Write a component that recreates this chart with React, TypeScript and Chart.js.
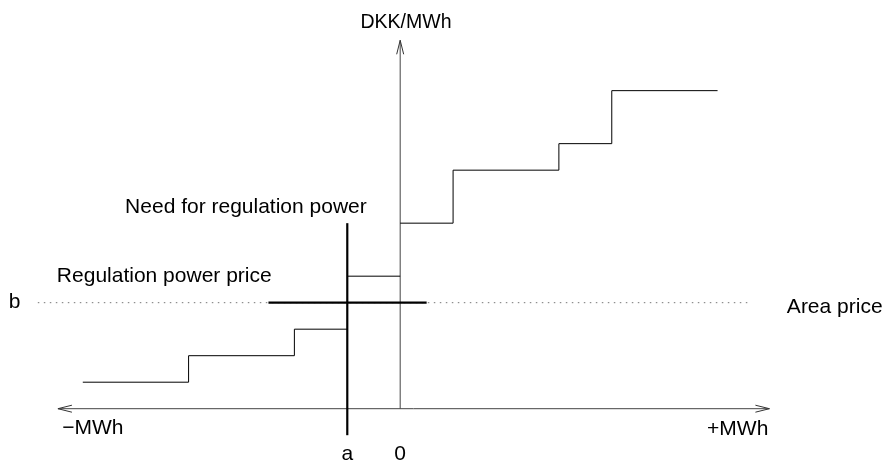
import React, { useEffect, useRef } from "react";
import { Chart, registerables } from "chart.js";

Chart.register(...registerables);

// ---- Data (schematic units: x = MWh steps, y = DKK/MWh steps) ----
// Down-regulation bids (left of 0): breakpoints and step prices
const downBreaks = [-6, -4, -2, -1];
const downPrices = [1, 2, 3];
// Bid between the regulation need (a) and 0
const midBreaks = [-1, 0];
const midPrices = [5];
// Up-regulation bids (right of 0)
const upBreaks = [0, 1, 3, 4, 6];
const upPrices = [7, 9, 10, 12];

const areaPrice = 4; // "b"
const needAt = -1; // "a"
const needRange = [-1, 7];
const regPriceRange = [-2.49, 0.5];
const areaPriceRange = [-6.85, 6.6];
const xAxisRange = [-6.47, 6.98];
const yAxisTop = 13.9;

const X_MIN = -7.565;
const X_MAX = 9.165;
const Y_MIN = -2.011;
const Y_MAX = 15.42;

const labels = [
  { text: "DKK/MWh", x: 0.11, y: 14.35, align: "center", size: 19.5 },
  { text: "Need for regulation power", x: -5.2, y: 7.37, align: "left", size: 21 },
  { text: "Regulation power price", x: -6.49, y: 4.77, align: "left", size: 21 },
  { text: "b", x: -7.4, y: 3.81, align: "left", size: 21 },
  { text: "Area price", x: 7.31, y: 3.6, align: "left", size: 21 },
  { text: "\u2212MWh", x: -6.39, y: -0.95, align: "left", size: 21 },
  { text: "+MWh", x: 6.96, y: -0.99, align: "right", size: 21 },
  { text: "a", x: -1, y: -1.95, align: "center", size: 21 },
  { text: "0", x: 0, y: -1.95, align: "center", size: 21 },
];

function stepPoints(breaks: number[], prices: number[]) {
  const pts: { x: number; y: number }[] = [];
  for (let i = 0; i < prices.length; i++) {
    pts.push({ x: breaks[i], y: prices[i] });
  }
  pts.push({ x: breaks[breaks.length - 1], y: prices[prices.length - 1] });
  return pts;
}

const FONT = '"Liberation Sans", Arial, Helvetica, sans-serif';

const overlayPlugin = {
  id: "overlay",
  afterDatasetsDraw(chart: any) {
    const { ctx, scales } = chart;
    const xs = scales.x;
    const ys = scales.y;
    const px = (v: number) => xs.getPixelForValue(v);
    const py = (v: number) => ys.getPixelForValue(v);
    ctx.save();
    // arrowheads
    ctx.strokeStyle = "#333";
    ctx.lineWidth = 1;
    const L = 14;
    const W = 3.5;
    const y0 = py(0);
    const lx = px(xAxisRange[0]);
    ctx.beginPath();
    ctx.moveTo(lx + L, y0 - W);
    ctx.lineTo(lx, y0);
    ctx.lineTo(lx + L, y0 + W);
    ctx.stroke();
    const rx = px(xAxisRange[1]);
    ctx.beginPath();
    ctx.moveTo(rx - L, y0 - W);
    ctx.lineTo(rx, y0);
    ctx.lineTo(rx - L, y0 + W);
    ctx.stroke();
    const x0 = px(0);
    const ty = py(yAxisTop);
    ctx.beginPath();
    ctx.moveTo(x0 - W, ty + L);
    ctx.lineTo(x0, ty);
    ctx.lineTo(x0 + W, ty + L);
    ctx.stroke();

    // labels
    ctx.fillStyle = "#000";
    ctx.textBaseline = "alphabetic";
    for (const l of labels) {
      ctx.font = `${l.size}px ${FONT}`;
      ctx.textAlign = l.align as CanvasTextAlign;
      ctx.fillText(l.text, px(l.x), py(l.y));
    }
    ctx.restore();
  },
};

const lineDs = (label: string, data: any[], extra: any = {}) => ({
  type: "line" as const,
  label,
  data,
  showLine: true,
  pointRadius: 0,
  pointHoverRadius: 0,
  tension: 0,
  fill: false,
  borderColor: "#000",
  borderWidth: 1,
  ...extra,
});

export default function App() {
  const ref = useRef<HTMLCanvasElement | null>(null);
  useEffect(() => {
    if (!ref.current) return;
    const chart = new Chart(ref.current, {
      type: "scatter",
      data: {
        datasets: [
          lineDs(
            "Area price",
            [
              { x: areaPriceRange[0], y: areaPrice },
              { x: areaPriceRange[1], y: areaPrice },
            ],
            { borderColor: "#777", borderDash: [1.5, 4.5], order: 10 }
          ),
          lineDs(
            "x-axis",
            [
              { x: xAxisRange[0], y: 0 },
              { x: xAxisRange[1], y: 0 },
            ],
            { borderColor: "#444", order: 9 }
          ),
          lineDs(
            "y-axis",
            [
              { x: 0, y: 0 },
              { x: 0, y: yAxisTop },
            ],
            { borderColor: "#444", order: 9 }
          ),
          lineDs("Down-regulation bids", stepPoints(downBreaks, downPrices), {
            stepped: "before",
            order: 5,
          }),
          lineDs("Mid bid", stepPoints(midBreaks, midPrices), {
            stepped: "before",
            order: 5,
          }),
          lineDs("Up-regulation bids", stepPoints(upBreaks, upPrices), {
            stepped: "before",
            order: 5,
          }),
          lineDs(
            "Regulation power price",
            [
              { x: regPriceRange[0], y: areaPrice },
              { x: regPriceRange[1], y: areaPrice },
            ],
            { borderWidth: 2.2, order: 1 }
          ),
          lineDs(
            "Need for regulation power",
            [
              { x: needAt, y: needRange[0] },
              { x: needAt, y: needRange[1] },
            ],
            { borderWidth: 2.2, order: 1 }
          ),
        ],
      },
      options: {
        animation: false,
        responsive: true,
        maintainAspectRatio: false,
        layout: { padding: 0 },
        plugins: {
          legend: { display: false },
          tooltip: { enabled: false },
          title: { display: false },
        },
        scales: {
          x: { type: "linear", min: X_MIN, max: X_MAX, display: false },
          y: { type: "linear", min: Y_MIN, max: Y_MAX, display: false },
        },
      },
      plugins: [overlayPlugin],
    });
    return () => chart.destroy();
  }, []);
  return (
    <div
      style={{
        position: "fixed",
        left: 0,
        top: 0,
        width: 885,
        height: 462,
        background: "#fff",
      }}
    >
      <canvas ref={ref} />
    </div>
  );
}
